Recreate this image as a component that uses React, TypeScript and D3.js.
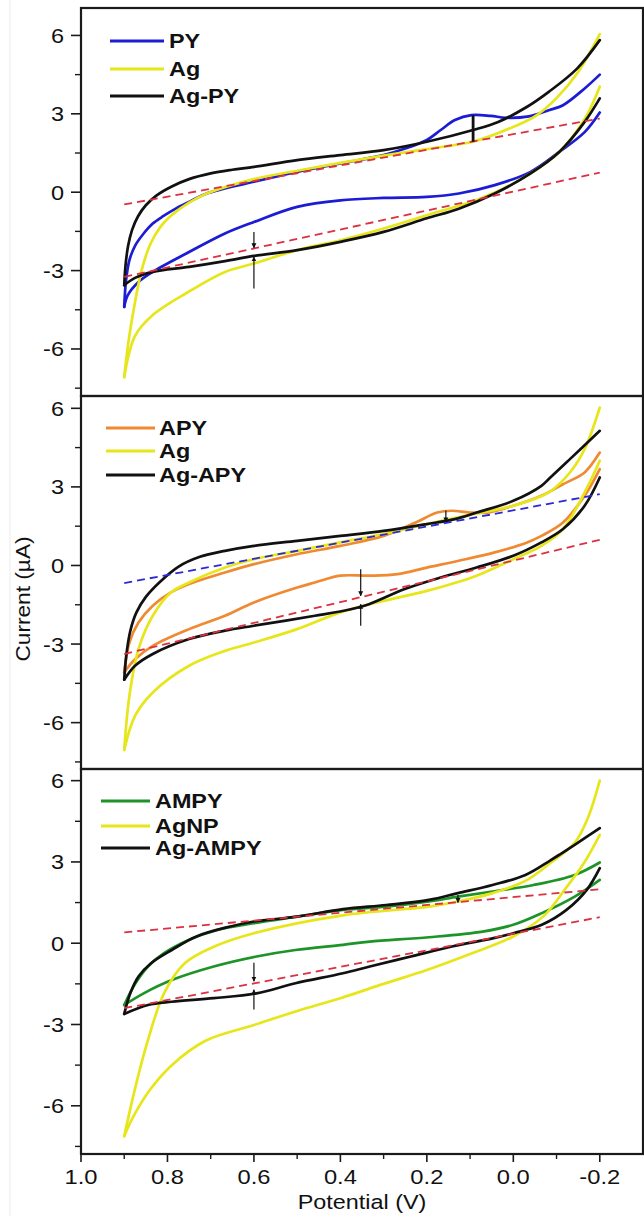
import React from 'react';
import * as d3 from 'd3';

// axis ticks
const xTicks = [1.0, 0.8, 0.6, 0.4, 0.2, 0.0, -0.2];
const xMinor = [0.9, 0.7, 0.5, 0.3, 0.1, -0.1];
const yTicks = [6, 3, 0, -3, -6];
const yMinor = [4.5, 1.5, -1.5, -4.5, -7.5];

type Pt = [number, number];

// ---- panel 1 : PY / Ag / Ag-PY  (potential V, current uA)
const pyUp: Pt[] = [[0.9, -4.39], [0.896, -3.4], [0.888, -2.6], [0.875, -2.05], [0.856, -1.6], [0.834, -1.2], [0.81, -0.92], [0.78, -0.62], [0.75, -0.37], [0.709, -0.05], [0.6, 0.4], [0.5, 0.78], [0.4, 1.1], [0.3, 1.42], [0.25, 1.67], [0.2, 2.0], [0.168, 2.38], [0.135, 2.76], [0.097, 2.95], [0.052, 2.92], [0.018, 2.85], [-0.032, 2.89], [-0.082, 3.14], [-0.115, 3.33], [-0.165, 3.97], [-0.2, 4.5]];
const pyLo: Pt[] = [[0.9, -4.39], [0.892, -3.95], [0.867, -3.44], [0.834, -3.05], [0.75, -2.29], [0.667, -1.58], [0.6, -1.14], [0.5, -0.56], [0.4, -0.31], [0.3, -0.22], [0.2, -0.18], [0.126, -0.05], [0.043, 0.27], [-0.04, 0.78], [-0.107, 1.55], [-0.165, 2.3], [-0.2, 3.05]];
const agUp1: Pt[] = [[0.9, -7.08], [0.89, -5.7], [0.875, -4.2], [0.86, -3.0], [0.84, -2.0], [0.815, -1.3], [0.792, -0.9], [0.75, -0.4], [0.709, -0.05], [0.6, 0.5], [0.5, 0.82], [0.4, 1.12], [0.3, 1.4], [0.2, 1.65], [0.09, 1.95], [0.0, 2.5], [-0.05, 2.9], [-0.1, 3.6], [-0.15, 4.6], [-0.2, 6.05]];
const agLo1: Pt[] = [[0.9, -7.08], [0.875, -5.5], [0.834, -4.7], [0.75, -3.8], [0.667, -3.05], [0.6, -2.73], [0.5, -2.22], [0.4, -1.84], [0.3, -1.39], [0.2, -0.88], [0.085, -0.3], [0.0, 0.33], [-0.107, 1.55], [-0.165, 2.8], [-0.2, 4.04]];
const agpyUp: Pt[] = [[0.9, -3.56], [0.897, -2.8], [0.891, -2.05], [0.882, -1.45], [0.868, -0.92], [0.85, -0.5], [0.825, -0.12], [0.79, 0.22], [0.75, 0.5], [0.7, 0.72], [0.65, 0.86], [0.6, 0.97], [0.5, 1.23], [0.4, 1.42], [0.3, 1.61], [0.2, 1.93], [0.093, 2.38], [0.035, 2.69], [-0.032, 3.27], [-0.082, 3.84], [-0.148, 4.74], [-0.2, 5.82]];
const agpyLo: Pt[] = [[0.9, -3.56], [0.875, -3.28], [0.834, -3.05], [0.75, -2.86], [0.667, -2.64], [0.6, -2.44], [0.5, -2.22], [0.4, -1.9], [0.3, -1.52], [0.2, -1.0], [0.126, -0.63], [0.043, -0.05], [-0.04, 0.72], [-0.107, 1.55], [-0.165, 2.69], [-0.2, 3.59]];
const fit1Up: Pt[] = [[0.9, -0.47], [-0.2, 2.82]];
const fit1Lo: Pt[] = [[0.9, -3.24], [-0.2, 0.75]];

// ---- panel 2 : APY / Ag / Ag-APY
const apyUp: Pt[] = [[0.9, -4.08], [0.888, -2.94], [0.867, -2.18], [0.834, -1.54], [0.792, -1.03], [0.75, -0.71], [0.667, -0.27], [0.6, 0.05], [0.5, 0.43], [0.4, 0.75], [0.3, 1.13], [0.226, 1.64], [0.176, 2.02], [0.143, 2.09], [0.101, 2.02], [0.06, 2.02], [0.0, 2.28], [-0.065, 2.66], [-0.115, 3.1], [-0.131, 3.23], [-0.165, 3.55], [-0.2, 4.31]];
const apyLo: Pt[] = [[0.9, -4.08], [0.875, -3.58], [0.834, -3.07], [0.75, -2.43], [0.667, -1.92], [0.6, -1.41], [0.5, -0.84], [0.459, -0.65], [0.4, -0.39], [0.334, -0.39], [0.268, -0.33], [0.2, -0.08], [0.126, 0.18], [0.043, 0.5], [-0.032, 0.88], [-0.065, 1.13], [-0.115, 1.64], [-0.165, 2.66], [-0.2, 3.68]];
const agUp2: Pt[] = [[0.9, -7.04], [0.888, -4.97], [0.867, -3.19], [0.834, -1.92], [0.792, -1.03], [0.75, -0.65], [0.667, -0.08], [0.6, 0.24], [0.5, 0.56], [0.4, 0.88], [0.3, 1.2], [0.2, 1.58], [0.093, 1.96], [0.0, 2.28], [-0.082, 2.79], [-0.131, 3.55], [-0.165, 4.44], [-0.2, 6.03]];
const agLo2: Pt[] = [[0.9, -7.04], [0.875, -5.74], [0.834, -4.85], [0.75, -3.83], [0.667, -3.26], [0.6, -2.94], [0.5, -2.43], [0.4, -1.79], [0.3, -1.35], [0.2, -0.97], [0.085, -0.39], [0.0, 0.24], [-0.065, 0.75], [-0.115, 1.39], [-0.165, 2.79], [-0.2, 4.0]];
const agapyUp: Pt[] = [[0.9, -4.36], [0.895, -3.4], [0.886, -2.5], [0.872, -1.8], [0.85, -1.2], [0.817, -0.62], [0.775, -0.05], [0.725, 0.33], [0.667, 0.56], [0.6, 0.75], [0.5, 0.94], [0.4, 1.13], [0.3, 1.32], [0.2, 1.58], [0.135, 1.77], [0.085, 2.02], [0.0, 2.47], [-0.065, 3.04], [-0.082, 3.3], [-0.131, 4.06], [-0.2, 5.14]];
const agapyLo: Pt[] = [[0.9, -4.36], [0.875, -3.83], [0.834, -3.38], [0.75, -2.81], [0.667, -2.49], [0.6, -2.3], [0.459, -1.92], [0.376, -1.67], [0.334, -1.48], [0.251, -0.9], [0.168, -0.46], [0.085, -0.08], [0.0, 0.37], [-0.065, 0.88], [-0.115, 1.39], [-0.165, 2.28], [-0.2, 3.36]];
const fit2Up: Pt[] = [[0.9, -0.67], [-0.2, 2.72]];
const fit2Lo: Pt[] = [[0.9, -3.38], [-0.2, 0.98]];

// ---- panel 3 : AMPY / AgNP / Ag-AMPY
const ampyUp: Pt[] = [[0.9, -2.28], [0.874, -1.48], [0.845, -0.86], [0.808, -0.37], [0.751, 0.12], [0.685, 0.49], [0.6, 0.74], [0.5, 0.98], [0.394, 1.23], [0.294, 1.35], [0.195, 1.54], [0.128, 1.72], [0.048, 1.91], [-0.047, 2.15], [-0.142, 2.52], [-0.2, 2.98]];
const ampyLo: Pt[] = [[0.9, -2.28], [0.855, -1.85], [0.79, -1.36], [0.693, -0.86], [0.594, -0.49], [0.504, -0.25], [0.394, -0.06], [0.332, 0.06], [0.195, 0.22], [0.071, 0.43], [0.0, 0.68], [-0.066, 1.11], [-0.142, 1.72], [-0.2, 2.34]];
const agUp3: Pt[] = [[0.9, -7.12], [0.874, -5.3], [0.845, -3.57], [0.808, -1.85], [0.76, -0.74], [0.693, -0.13], [0.6, 0.37], [0.394, 1.03], [0.195, 1.35], [0.128, 1.54], [0.048, 1.85], [-0.028, 2.3], [-0.085, 2.95], [-0.142, 3.7], [-0.172, 4.6], [-0.2, 6.0]];
const agLo3: Pt[] = [[0.9, -7.12], [0.879, -6.4], [0.84, -5.4], [0.79, -4.5], [0.712, -3.6], [0.6, -3.02], [0.5, -2.5], [0.4, -2.03], [0.3, -1.5], [0.2, -0.99], [0.1, -0.4], [0.0, 0.25], [-0.07, 1.0], [-0.12, 2.0], [-0.165, 3.0], [-0.2, 4.0]];
const agampyUp: Pt[] = [[0.9, -2.61], [0.886, -1.85], [0.867, -1.23], [0.838, -0.74], [0.79, -0.25], [0.733, 0.25], [0.657, 0.61], [0.6, 0.8], [0.5, 0.98], [0.394, 1.26], [0.294, 1.41], [0.195, 1.6], [0.128, 1.85], [0.048, 2.15], [-0.028, 2.52], [-0.085, 3.05], [-0.11, 3.3], [-0.142, 3.63], [-0.2, 4.25]];
const agampyLo: Pt[] = [[0.9, -2.61], [0.845, -2.28], [0.79, -2.16], [0.693, -2.03], [0.594, -1.85], [0.504, -1.48], [0.394, -1.11], [0.332, -0.86], [0.237, -0.49], [0.142, -0.12], [0.048, 0.18], [0.0, 0.37], [-0.066, 0.68], [-0.123, 1.23], [-0.17, 1.97], [-0.2, 2.77]];
const fit3Up: Pt[] = [[0.9, 0.4], [-0.2, 1.99]];
const fit3Lo: Pt[] = [[0.9, -2.4], [-0.2, 0.96]];

// arrow annotations [potential, from, to]
const arrows1 = [[0.6, -1.52, -2.13], [0.6, -3.69, -2.48]];
const bars1 = [[0.093, 2.95, 1.93]];
const arrows2 = [[0.353, -0.14, -1.16], [0.353, -2.3, -1.48], [0.156, 2.1, 1.66]];
const arrows3 = [[0.6, -0.72, -1.4], [0.6, -2.45, -1.72], [0.128, 1.78, 1.5]];

const BLUE = '#1c1cd4';
const YELLOW = '#e6e61a';
const BLACK = '#111111';
const ORANGE = '#ef8a32';
const GREEN = '#1e9428';
const RED = '#dd3040';
const FONT = '"Liberation Sans", Arial, sans-serif';

const W = 644;
const H = 1216;
const x = d3.scaleLinear().domain([1.0, -0.3]).range([81, 643]);

const panels = [
  {
    top: 8, bottom: 396, domain: [-7.8, 7.05],
    series: [
      { name: 'PY', color: BLUE, up: pyUp, lo: pyLo },
      { name: 'Ag', color: YELLOW, up: agUp1, lo: agLo1 },
      { name: 'Ag-PY', color: BLACK, up: agpyUp, lo: agpyLo },
    ],
    fits: [{ pts: fit1Up, color: RED }, { pts: fit1Lo, color: RED }],
    arrows: arrows1, bars: bars1,
    legend: { x1: 110, x2: 164, tx: 169, ys: [41, 69, 96] },
  },
  {
    top: 396, bottom: 769, domain: [-7.77, 6.47],
    series: [
      { name: 'APY', color: ORANGE, up: apyUp, lo: apyLo },
      { name: 'Ag', color: YELLOW, up: agUp2, lo: agLo2 },
      { name: 'Ag-APY', color: BLACK, up: agapyUp, lo: agapyLo },
    ],
    fits: [{ pts: fit2Up, color: '#2a2ad6' }, { pts: fit2Lo, color: RED }],
    arrows: arrows2, bars: [],
    legend: { x1: 106, x2: 155, tx: 159, ys: [428, 451, 475] },
  },
  {
    top: 769, bottom: 1154, domain: [-7.78, 6.43],
    series: [
      { name: 'AMPY', color: GREEN, up: ampyUp, lo: ampyLo },
      { name: 'AgNP', color: YELLOW, up: agUp3, lo: agLo3 },
      { name: 'Ag-AMPY', color: BLACK, up: agampyUp, lo: agampyLo },
    ],
    fits: [{ pts: fit3Up, color: RED }, { pts: fit3Lo, color: RED }],
    arrows: arrows3, bars: [],
    legend: { x1: 101, x2: 150, tx: 155, ys: [801, 826, 848] },
  },
];

const Stretch = ({ x, y, sx = 1.2, size = 20, anchor = 'middle', weight = 'normal', children }: any) => (
  <text transform={`translate(${x},${y}) scale(${sx},1)`} fontSize={size} fontFamily={FONT}
    fontWeight={weight} textAnchor={anchor} fill="#111">{children}</text>
);

function Panel({ p, last }: { p: any; last: boolean }) {
  const y = d3.scaleLinear().domain(p.domain).range([p.bottom, p.top]);
  const line = d3.line<Pt>().x(d => x(d[0])).y(d => y(d[1])).curve(d3.curveCatmullRom.alpha(0.5));
  const straight = d3.line<Pt>().x(d => x(d[0])).y(d => y(d[1]));
  const x0 = x.range()[0];
  const x1 = x.range()[1];
  return (
    <g>
      {/* curves */}
      {p.series.map((s: any) => (
        <g key={s.name} fill="none" stroke={s.color} strokeWidth={2.7} strokeLinejoin="round" strokeLinecap="round">
          <path d={line(s.up) || ''} />
          <path d={line(s.lo) || ''} />
        </g>
      ))}
      {/* linear fits */}
      {p.fits.map((f: any, i: number) => (
        <path key={i} d={straight(f.pts) || ''} fill="none" stroke={f.color} strokeWidth={1.8} strokeDasharray="8,5" />
      ))}
      {/* annotations */}
      {p.bars.map((b: number[], i: number) => (
        <line key={'b' + i} x1={x(b[0])} x2={x(b[0])} y1={y(b[1])} y2={y(b[2])} stroke={BLACK} strokeWidth={2.8} />
      ))}
      {p.arrows.map((a: number[], i: number) => (
        <line key={'a' + i} x1={x(a[0])} x2={x(a[0])} y1={y(a[1])} y2={y(a[2])} stroke={BLACK} strokeWidth={1.2} markerEnd="url(#head)" />
      ))}
      {/* legend */}
      {p.series.map((s: any, i: number) => (
        <g key={'l' + s.name}>
          <line x1={p.legend.x1} x2={p.legend.x2} y1={p.legend.ys[i]} y2={p.legend.ys[i]} stroke={s.color} strokeWidth={3} />
          <Stretch x={p.legend.tx} y={p.legend.ys[i] + 7} size={19.5} anchor="start" weight="bold" sx={1.2}>{s.name}</Stretch>
        </g>
      ))}
      {/* frame */}
      <rect x={x0} y={p.top} width={x1 - x0} height={p.bottom - p.top} fill="none" stroke="#1a1a1a" strokeWidth={2.2} />
      {/* y ticks */}
      {yTicks.filter(t => y(t) > p.top + 2).map(t => (
        <g key={'yt' + t}>
          <line x1={x0 - 10} x2={x0} y1={y(t)} y2={y(t)} stroke="#1a1a1a" strokeWidth={1.6} />
          <Stretch x={x0 - 17} y={y(t) + 7.5} anchor="end" size={21} sx={1.12}>{t}</Stretch>
        </g>
      ))}
      {yMinor.filter(t => y(t) > p.top + 2 && y(t) < p.bottom - 2).map(t => (
        <line key={'ym' + t} x1={x0 - 6} x2={x0} y1={y(t)} y2={y(t)} stroke="#1a1a1a" strokeWidth={1.4} />
      ))}
      {last && (
        <g>
          {xTicks.map(t => (
            <g key={'xt' + t}>
              <line x1={x(t)} x2={x(t)} y1={p.bottom} y2={p.bottom + 8} stroke="#1a1a1a" strokeWidth={1.6} />
              <Stretch x={x(t)} y={1184} size={21} sx={1.13}>{t.toFixed(1)}</Stretch>
            </g>
          ))}
          {xMinor.map(t => (
            <line key={'xm' + t} x1={x(t)} x2={x(t)} y1={p.bottom} y2={p.bottom + 5} stroke="#1a1a1a" strokeWidth={1.4} />
          ))}
        </g>
      )}
    </g>
  );
}

export default function App() {
  return (
    <div style={{ position: 'absolute', left: 0, top: 0, width: W, height: H, background: '#fff' }}>
      <svg width={W} height={H} style={{ display: 'block' }}>
        <defs>
          <marker id="head" viewBox="0 0 10 10" refX="9" refY="5" markerWidth="5" markerHeight="6" orient="auto" markerUnits="userSpaceOnUse">
            <path d="M0,0 L10,5 L0,10 z" fill={BLACK} />
          </marker>
        </defs>
        <rect width={W} height={H} fill="#fff" />
        <line x1={10} x2={10} y1={0} y2={H} stroke="#ececec" strokeWidth={1} />
        {panels.map((p, i) => <Panel key={i} p={p} last={i === panels.length - 1} />)}
        <Stretch x={362} y={1209} size={19.5} sx={1.2}>Potential (V)</Stretch>
        <text transform="translate(30,599) rotate(-90) scale(1.08,1)" fontSize={21} fontFamily={FONT} textAnchor="middle" fill="#111">Current (µA)</text>
      </svg>
    </div>
  );
}
